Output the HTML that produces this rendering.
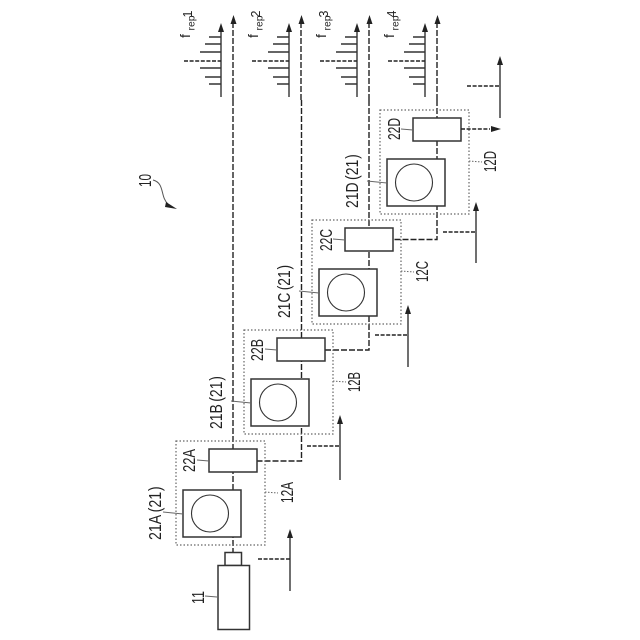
<!DOCTYPE html>
<html><head><meta charset="utf-8"><style>
html,body{margin:0;padding:0;background:#fff}
svg{display:block}
text{font-family:"Liberation Sans",sans-serif;fill:#222}
.l{font-size:17.5px}
.box{fill:#fff;stroke:#333;stroke-width:1.5}
.dot{fill:none;stroke:#666;stroke-width:1.2;stroke-dasharray:1.5 2}
.beam{fill:none;stroke:#222;stroke-width:1.4;stroke-dasharray:6 2}
.d{fill:none;stroke:#222;stroke-width:1.5;stroke-dasharray:4 1.6}
.s{fill:none;stroke:#333;stroke-width:1.4}
.t{fill:none;stroke:#333;stroke-width:1.6}
.lead{fill:none;stroke:#666;stroke-width:.9}
.ld{fill:none;stroke:#666;stroke-width:1;stroke-dasharray:1.5 1.5}
</style></head><body>
<svg width="640" height="640" viewBox="0 0 640 640" xmlns="http://www.w3.org/2000/svg">
<defs>
<g id="sp">
<path class="s" d="M221 97V30"/><path d="M221 23l-3 9h6z" fill="#222"/>
<path class="t" d="M209 37h12M205 44h16M200 52h21M200 68h21M205 77h16M209 84h12"/>
<path class="d" d="M184 61h37"/>
<path class="beam" d="M233 100V20"/><path d="M233.500 15l-3 9h6z" fill="#222"/>
</g>
<g id="mod">
<rect class="dot" x="176" y="441" width="89" height="104"/>
<rect class="box" x="183" y="490" width="58" height="47"/>
<circle cx="210" cy="513.500" r="18.500" fill="#fff" stroke="#333" stroke-width="1.100"/>
<rect class="box" x="209" y="449" width="48" height="23"/>
<path class="lead" d="M197 460l12 1M163 512l20 2"/>
<path class="ld" d="M265 492l13 1"/>
</g>
</defs>

<use href="#sp"/>
<use href="#sp" transform="translate(68,0)"/>
<use href="#sp" transform="translate(136,0)"/>
<use href="#sp" transform="translate(204,0)"/>

<path class="beam" d="M233 100V552"/>
<path class="beam" d="M301.500 100V461H257"/>
<path class="beam" d="M369 100V350H325"/>
<path class="beam" d="M437 100V239.500H393"/>

<use href="#mod"/>
<use href="#mod" transform="translate(68,-111)"/>
<use href="#mod" transform="translate(136,-221)"/>
<use href="#mod" transform="translate(204,-331)"/>

<path class="d" d="M461 129H490"/><path d="M501 129l-10-3v6z" fill="#222"/>

<rect class="box" x="225" y="552.500" width="16.500" height="13"/>
<rect class="box" x="218" y="565.500" width="31.500" height="64"/>
<path class="lead" d="M205 596l12 1"/>

<!-- input arrows -->
<path class="s" d="M290 591V535"/><path d="M290 529l-3 9h6z" fill="#222"/><path class="d" d="M258 559h32"/>
<path class="s" d="M340 480V421"/><path d="M340 415l-3 9h6z" fill="#222"/><path class="d" d="M307 446h33"/>
<path class="s" d="M408 367V311"/><path d="M408 305l-3 9h6z" fill="#222"/><path class="d" d="M375 335h33"/>
<path class="s" d="M476 263V208"/><path d="M476 202l-3 9h6z" fill="#222"/><path class="d" d="M443 232h33"/>
<path class="s" d="M500 118V62"/><path d="M500 56l-3 9h6z" fill="#222"/><path class="d" d="M467 86h33"/>

<!-- ref 10 -->
<path fill="none" stroke="#555" stroke-width="1" d="M153 180C165 183 160 197 168 204"/>
<path d="M177 209l-11-7-1 5z" fill="#222"/>
<text class="l" transform="translate(151,187) rotate(-90)" textLength="13" lengthAdjust="spacingAndGlyphs">10</text>

<!-- labels -->
<text class="l" transform="translate(204,604) rotate(-90)" textLength="13" lengthAdjust="spacingAndGlyphs">11</text>
<text class="l" transform="translate(195,472) rotate(-90)" textLength="23" lengthAdjust="spacingAndGlyphs">22A</text>
<text class="l" transform="translate(161,540) rotate(-90) scale(.81,1)">21A<tspan dx="3">(21</tspan><tspan dx="1">)</tspan></text>
<text class="l" transform="translate(293,503) rotate(-90)" textLength="21" lengthAdjust="spacingAndGlyphs">12A</text>

<text class="l" transform="translate(263,361) rotate(-90)" textLength="22" lengthAdjust="spacingAndGlyphs">22B</text>
<text class="l" transform="translate(222,429) rotate(-90) scale(.8,1)">21B<tspan dx="3">(21</tspan><tspan dx="1">)</tspan></text>
<text class="l" transform="translate(360,392) rotate(-90)" textLength="20" lengthAdjust="spacingAndGlyphs">12B</text>

<text class="l" transform="translate(332,251) rotate(-90)" textLength="22" lengthAdjust="spacingAndGlyphs">22C</text>
<text class="l" transform="translate(290,318) rotate(-90) scale(.79,1)">21C<tspan dx="3">(21</tspan><tspan dx="1">)</tspan></text>
<text class="l" transform="translate(428,282) rotate(-90)" textLength="21" lengthAdjust="spacingAndGlyphs">12C</text>

<text class="l" transform="translate(400,140) rotate(-90)" textLength="22" lengthAdjust="spacingAndGlyphs">22D</text>
<text class="l" transform="translate(358,208) rotate(-90) scale(.8,1)">21D<tspan dx="3">(21</tspan><tspan dx="1">)</tspan></text>
<text class="l" transform="translate(496,172) rotate(-90)" textLength="21" lengthAdjust="spacingAndGlyphs">12D</text>

<g>
<text transform="translate(190,38) rotate(-90)" font-size="14">f</text>
<text transform="translate(194.500,30.500) rotate(-90)" font-size="10" textLength="15" lengthAdjust="spacingAndGlyphs">rep</text>
<text transform="translate(192,17.500) rotate(-90)" font-size="12.500">1</text>

<text transform="translate(258,38) rotate(-90)" font-size="14">f</text>
<text transform="translate(262.500,30.500) rotate(-90)" font-size="10" textLength="15" lengthAdjust="spacingAndGlyphs">rep</text>
<text transform="translate(260,17.500) rotate(-90)" font-size="12.500">2</text>

<text transform="translate(326,38) rotate(-90)" font-size="14">f</text>
<text transform="translate(330.500,30.500) rotate(-90)" font-size="10" textLength="15" lengthAdjust="spacingAndGlyphs">rep</text>
<text transform="translate(328,17.500) rotate(-90)" font-size="12.500">3</text>

<text transform="translate(394,38) rotate(-90)" font-size="14">f</text>
<text transform="translate(398.500,30.500) rotate(-90)" font-size="10" textLength="15" lengthAdjust="spacingAndGlyphs">rep</text>
<text transform="translate(396,17.500) rotate(-90)" font-size="12.500">4</text>
</g>
</svg>
</body></html>
